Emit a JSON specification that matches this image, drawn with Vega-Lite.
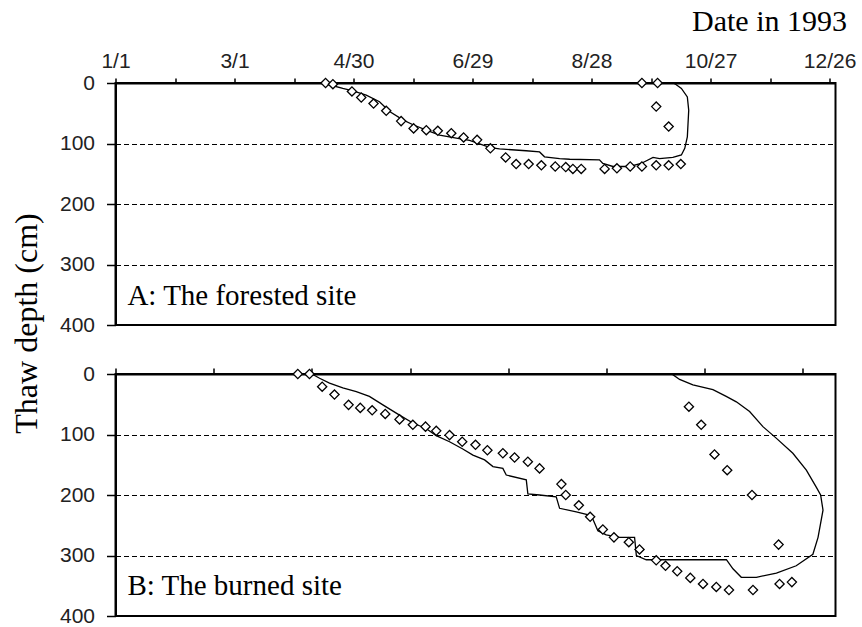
{
  "$schema": "https://vega.github.io/schema/vega-lite/v6.json",
  "background": "white",
  "padding": {"left": 9.5, "top": 5, "right": 0, "bottom": 0},
  "config": {
    "view": {"stroke": "black", "strokeWidth": 2},
    "axis": {
      "labelFont": "Liberation Sans",
      "labelFontSize": 21,
      "labelColor": "#222222",
      "domainColor": "black",
      "domainWidth": 2,
      "tickColor": "black",
      "tickWidth": 1.5,
      "labelFlush": false,
      "labelOverlap": false
    }
  },
  "datasets": {
    "forestModel": [
      {"seq": 1, "day": 104.5, "depth": 0},
      {"seq": 2, "day": 114.6, "depth": 9},
      {"seq": 3, "day": 119.7, "depth": 13},
      {"seq": 4, "day": 126.4, "depth": 20},
      {"seq": 5, "day": 133.1, "depth": 31},
      {"seq": 6, "day": 138.2, "depth": 47},
      {"seq": 7, "day": 144.9, "depth": 61},
      {"seq": 8, "day": 150.0, "depth": 69},
      {"seq": 9, "day": 156.7, "depth": 78},
      {"seq": 10, "day": 163.4, "depth": 86},
      {"seq": 11, "day": 171.8, "depth": 91},
      {"seq": 12, "day": 178.5, "depth": 95},
      {"seq": 13, "day": 189.0, "depth": 107},
      {"seq": 14, "day": 193.6, "depth": 109},
      {"seq": 15, "day": 207.0, "depth": 112},
      {"seq": 16, "day": 213.8, "depth": 114},
      {"seq": 17, "day": 216.3, "depth": 122},
      {"seq": 18, "day": 223.9, "depth": 125},
      {"seq": 19, "day": 229.0, "depth": 126},
      {"seq": 20, "day": 244.0, "depth": 127},
      {"seq": 21, "day": 245.7, "depth": 133},
      {"seq": 22, "day": 250.8, "depth": 138},
      {"seq": 23, "day": 259.2, "depth": 138},
      {"seq": 24, "day": 265.0, "depth": 133},
      {"seq": 25, "day": 271.0, "depth": 123},
      {"seq": 26, "day": 274.3, "depth": 125},
      {"seq": 27, "day": 281.0, "depth": 123},
      {"seq": 28, "day": 285.3, "depth": 119},
      {"seq": 29, "day": 287.0, "depth": 108},
      {"seq": 30, "day": 288.3, "depth": 89},
      {"seq": 31, "day": 289.0, "depth": 45},
      {"seq": 32, "day": 288.3, "depth": 23},
      {"seq": 33, "day": 285.3, "depth": 9},
      {"seq": 34, "day": 282.4, "depth": 2},
      {"seq": 35, "day": 281.0, "depth": 0}
    ],
    "forestObs": [
      {"day": 105.9, "depth": 0},
      {"day": 109.6, "depth": 2},
      {"day": 119.2, "depth": 14},
      {"day": 123.9, "depth": 24},
      {"day": 130.1, "depth": 34},
      {"day": 136.5, "depth": 46},
      {"day": 144.0, "depth": 63},
      {"day": 150.3, "depth": 75},
      {"day": 156.7, "depth": 78},
      {"day": 162.5, "depth": 79},
      {"day": 169.3, "depth": 83},
      {"day": 175.5, "depth": 90},
      {"day": 182.3, "depth": 94},
      {"day": 189.0, "depth": 108},
      {"day": 196.7, "depth": 123},
      {"day": 202.0, "depth": 134},
      {"day": 208.3, "depth": 134},
      {"day": 214.7, "depth": 136},
      {"day": 221.7, "depth": 138},
      {"day": 227.0, "depth": 139},
      {"day": 230.6, "depth": 142},
      {"day": 234.8, "depth": 142},
      {"day": 246.6, "depth": 142},
      {"day": 252.8, "depth": 141},
      {"day": 259.5, "depth": 138},
      {"day": 265.4, "depth": 138},
      {"day": 272.6, "depth": 136},
      {"day": 278.9, "depth": 136},
      {"day": 285.0, "depth": 134},
      {"day": 265.4, "depth": 0},
      {"day": 273.3, "depth": 0},
      {"day": 272.6, "depth": 39},
      {"day": 278.9, "depth": 72}
    ],
    "burnModel": [
      {"seq": 1, "day": 99.0, "depth": 0},
      {"seq": 2, "day": 102.9, "depth": 7},
      {"seq": 3, "day": 107.9, "depth": 15},
      {"seq": 4, "day": 114.6, "depth": 23},
      {"seq": 5, "day": 121.4, "depth": 29},
      {"seq": 6, "day": 128.0, "depth": 37},
      {"seq": 7, "day": 134.8, "depth": 51},
      {"seq": 8, "day": 143.2, "depth": 68},
      {"seq": 9, "day": 149.9, "depth": 81},
      {"seq": 10, "day": 156.6, "depth": 90},
      {"seq": 11, "day": 161.7, "depth": 102},
      {"seq": 12, "day": 168.4, "depth": 112},
      {"seq": 13, "day": 175.1, "depth": 124},
      {"seq": 14, "day": 180.2, "depth": 134},
      {"seq": 15, "day": 186.1, "depth": 142},
      {"seq": 16, "day": 190.3, "depth": 153},
      {"seq": 17, "day": 195.3, "depth": 156},
      {"seq": 18, "day": 197.0, "depth": 167},
      {"seq": 19, "day": 207.1, "depth": 175},
      {"seq": 20, "day": 207.9, "depth": 198},
      {"seq": 21, "day": 213.8, "depth": 200},
      {"seq": 22, "day": 222.2, "depth": 203},
      {"seq": 23, "day": 223.9, "depth": 222},
      {"seq": 24, "day": 232.3, "depth": 228},
      {"seq": 25, "day": 239.9, "depth": 234},
      {"seq": 26, "day": 243.2, "depth": 259},
      {"seq": 27, "day": 247.4, "depth": 266},
      {"seq": 28, "day": 254.2, "depth": 270},
      {"seq": 29, "day": 261.7, "depth": 270},
      {"seq": 30, "day": 262.6, "depth": 300},
      {"seq": 31, "day": 267.6, "depth": 307},
      {"seq": 32, "day": 282.8, "depth": 307},
      {"seq": 33, "day": 308.0, "depth": 307},
      {"seq": 34, "day": 311.3, "depth": 322},
      {"seq": 35, "day": 315.5, "depth": 336},
      {"seq": 36, "day": 323.1, "depth": 336},
      {"seq": 37, "day": 333.2, "depth": 329},
      {"seq": 38, "day": 343.2, "depth": 317},
      {"seq": 39, "day": 351.6, "depth": 298},
      {"seq": 40, "day": 354.2, "depth": 270},
      {"seq": 41, "day": 356.7, "depth": 225},
      {"seq": 42, "day": 355.5, "depth": 200},
      {"seq": 43, "day": 353.3, "depth": 187},
      {"seq": 44, "day": 348.3, "depth": 159},
      {"seq": 45, "day": 341.5, "depth": 131},
      {"seq": 46, "day": 333.1, "depth": 106},
      {"seq": 47, "day": 326.4, "depth": 87},
      {"seq": 48, "day": 319.7, "depth": 62},
      {"seq": 49, "day": 313.0, "depth": 46},
      {"seq": 50, "day": 307.9, "depth": 37},
      {"seq": 51, "day": 301.2, "depth": 26},
      {"seq": 52, "day": 291.1, "depth": 18},
      {"seq": 53, "day": 284.4, "depth": 9},
      {"seq": 54, "day": 281.0, "depth": 1},
      {"seq": 55, "day": 280.0, "depth": 0}
    ],
    "burnObs": [
      {"day": 91.9, "depth": 0},
      {"day": 97.8, "depth": 0},
      {"day": 104.2, "depth": 21},
      {"day": 110.4, "depth": 34},
      {"day": 117.5, "depth": 51},
      {"day": 123.4, "depth": 56},
      {"day": 129.4, "depth": 60},
      {"day": 136.0, "depth": 66},
      {"day": 143.2, "depth": 75},
      {"day": 149.9, "depth": 84},
      {"day": 156.3, "depth": 87},
      {"day": 161.7, "depth": 94},
      {"day": 168.4, "depth": 101},
      {"day": 174.8, "depth": 112},
      {"day": 181.5, "depth": 117},
      {"day": 187.5, "depth": 126},
      {"day": 195.3, "depth": 131},
      {"day": 201.2, "depth": 138},
      {"day": 207.9, "depth": 145},
      {"day": 213.8, "depth": 156},
      {"day": 224.8, "depth": 182},
      {"day": 227.0, "depth": 200},
      {"day": 233.6, "depth": 217},
      {"day": 239.3, "depth": 236},
      {"day": 245.7, "depth": 257},
      {"day": 251.3, "depth": 270},
      {"day": 258.8, "depth": 278},
      {"day": 264.2, "depth": 290},
      {"day": 272.6, "depth": 308},
      {"day": 277.3, "depth": 317},
      {"day": 283.2, "depth": 326},
      {"day": 289.8, "depth": 337},
      {"day": 296.2, "depth": 347},
      {"day": 302.9, "depth": 352},
      {"day": 309.3, "depth": 357},
      {"day": 321.4, "depth": 357},
      {"day": 334.8, "depth": 347},
      {"day": 341.0, "depth": 344},
      {"day": 289.1, "depth": 54},
      {"day": 295.3, "depth": 84},
      {"day": 302.0, "depth": 133},
      {"day": 308.4, "depth": 159},
      {"day": 320.9, "depth": 200},
      {"day": 334.3, "depth": 282}
    ]
  },
  "spacing": 49,
  "bounds": "flush",
  "vconcat": [
    {
      "width": 720,
      "height": 242,
      "layer": [
        {
          "data": {"name": "forestModel"},
          "mark": {"type": "line", "color": "black", "strokeWidth": 1.3},
          "encoding": {
            "x": {
              "field": "day", "type": "quantitative",
              "scale": {"domain": [0, 363], "nice": false, "zero": false},
              "axis": {
                "orient": "top",
                "values": [0, 30, 60, 90, 120, 150, 180, 210, 240, 270, 300, 330, 360],
                "labelExpr": "datum.value % 60 == 0 ? ['1/1','3/1','4/30','6/29','8/28','10/27','12/26'][datum.value / 60] : ''",
                "grid": false,
                "tickSize": 5,
                "labelPadding": 7,
                "title": "Date in 1993",
                "titleFont": "Liberation Serif",
                "titleFontSize": 30,
                "titleFontWeight": "normal",
                "titleColor": "black",
                "titleAnchor": null,
                "titleAlign": "right",
                "titleBaseline": "alphabetic",
                "titleX": 731,
                "titleY": -53
              }
            },
            "y": {
              "field": "depth", "type": "quantitative",
              "scale": {"domain": [0, 400], "reverse": true, "nice": false},
              "axis": {
                "values": [0, 100, 200, 300, 400],
                "grid": true,
                "gridColor": "black",
                "gridDash": [5, 3],
                "gridWidth": 1.2,
                "tickSize": 9,
                "labelPadding": 12,
                "title": "Thaw depth (cm)",
                "titleFont": "Liberation Serif",
                "titleFontSize": 32,
                "titleFontWeight": "normal",
                "titleColor": "black",
                "titleAnchor": null,
                "titleAngle": -90,
                "titleAlign": "center",
                "titleBaseline": "middle",
                "titleX": -89,
                "titleY": 240
              }
            },
            "order": {"field": "seq", "type": "quantitative"}
          }
        },
        {
          "data": {"name": "forestObs"},
          "mark": {"type": "point", "shape": "diamond", "filled": true, "fill": "white", "stroke": "black", "strokeWidth": 1.3, "size": 85, "opacity": 1},
          "encoding": {
            "x": {"field": "day", "type": "quantitative"},
            "y": {"field": "depth", "type": "quantitative"}
          }
        },
        {
          "data": {"values": [{"label": "A: The forested site"}]},
          "mark": {"type": "text", "font": "Liberation Serif", "fontSize": 29, "align": "left", "baseline": "alphabetic", "color": "black"},
          "encoding": {
            "x": {"datum": 6, "type": "quantitative"},
            "y": {"datum": 367, "type": "quantitative"},
            "text": {"field": "label"}
          }
        }
      ]
    },
    {
      "width": 720,
      "height": 242,
      "layer": [
        {
          "data": {"name": "burnModel"},
          "mark": {"type": "line", "color": "black", "strokeWidth": 1.3},
          "encoding": {
            "x": {
              "field": "day", "type": "quantitative",
              "scale": {"domain": [0, 363], "nice": false, "zero": false},
              "axis": {
                "orient": "top",
                "values": [0, 49.5, 99, 148.5, 198, 247.5, 297, 346.5],
                "labels": false,
                "grid": false,
                "tickSize": 6,
                "title": null
              }
            },
            "y": {
              "field": "depth", "type": "quantitative",
              "scale": {"domain": [0, 400], "reverse": true, "nice": false},
              "axis": {
                "values": [0, 100, 200, 300, 400],
                "grid": true,
                "gridColor": "black",
                "gridDash": [5, 3],
                "gridWidth": 1.2,
                "tickSize": 9,
                "labelPadding": 12,
                "title": null
              }
            },
            "order": {"field": "seq", "type": "quantitative"}
          }
        },
        {
          "data": {"name": "burnObs"},
          "mark": {"type": "point", "shape": "diamond", "filled": true, "fill": "white", "stroke": "black", "strokeWidth": 1.3, "size": 85, "opacity": 1},
          "encoding": {
            "x": {"field": "day", "type": "quantitative"},
            "y": {"field": "depth", "type": "quantitative"}
          }
        },
        {
          "data": {"values": [{"label": "B: The burned site"}]},
          "mark": {"type": "text", "font": "Liberation Serif", "fontSize": 29, "align": "left", "baseline": "alphabetic", "color": "black"},
          "encoding": {
            "x": {"datum": 6, "type": "quantitative"},
            "y": {"datum": 366, "type": "quantitative"},
            "text": {"field": "label"}
          }
        }
      ]
    }
  ]
}
